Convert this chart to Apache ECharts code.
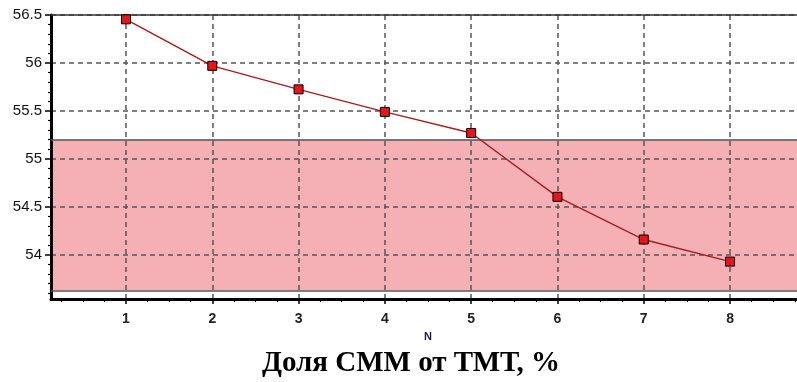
<!DOCTYPE html>
<html>
<head>
<meta charset="utf-8">
<script src="https://cdn.jsdelivr.net/npm/echarts@6/dist/echarts.min.js"></script>
<style>html,body{margin:0;padding:0;background:#fff;}#c{width:797px;height:382px;}</style>
</head>
<body>
<div id="c"></div>
<script>
// Data
const xValues = [1, 2, 3, 4, 5, 6, 7, 8];
const yValues = [56.455, 55.97, 55.725, 55.49, 55.27, 54.605, 54.16, 53.93];
const xTickLabels = [1, 2, 3, 4, 5, 6, 7, 8];
const yTickLabels = [54, 54.5, 55, 55.5, 56, 56.5];
const xMinorTicks = [0.25, 0.5, 0.75, 1.25, 1.5, 1.75, 2.25, 2.5, 2.75, 3.25, 3.5, 3.75, 4.25, 4.5, 4.75, 5.25, 5.5, 5.75, 6.25, 6.5, 6.75, 7.25, 7.5, 7.75, 8.25, 8.5, 8.75];
const yMinorTicks = [53.6, 53.7, 53.8, 53.9, 54.1, 54.2, 54.3, 54.4, 54.6, 54.7, 54.8, 54.9, 55.1, 55.2, 55.3, 55.4, 55.6, 55.7, 55.8, 55.9, 56.1, 56.2, 56.3, 56.4];
const bandRange = [55.2, 53.63];
const xRange = [0.131, 8.776];
const yRange = [53.54, 56.5];
const xName = 'N';
const titleText = 'Доля СММ от ТМТ, %';

const chart = echarts.init(document.getElementById('c'), null, {renderer: 'canvas'});
const dashStyle = {color: '#555', width: 1.5, type: [5, 4]};
const labelFont = {fontFamily: 'Liberation Sans, Arial, sans-serif'};

chart.setOption({
  animation: false,
  backgroundColor: '#fff',
  grid: {left: 51, right: 0, top: 15, bottom: 83, containLabel: false},
  xAxis: [
    {
      type: 'value', min: xRange[0], max: xRange[1], position: 'bottom', z: 3,
      axisLine: {show: true, onZero: false, lineStyle: {color: '#000', width: 3}},
      axisTick: {show: true, customValues: xTickLabels, length: 5, lineStyle: {color: '#000', width: 1.5}},
      axisLabel: {customValues: xTickLabels, margin: 13, fontSize: 14, fontWeight: 'bold', color: '#222', ...labelFont},
      splitLine: {show: true, lineStyle: dashStyle}
    },
    {
      type: 'value', min: xRange[0], max: xRange[1], position: 'bottom', z: 3,
      axisLine: {show: false, onZero: false},
      axisTick: {show: true, customValues: xMinorTicks, length: 3, lineStyle: {color: '#000', width: 1.2}},
      axisLabel: {show: false},
      splitLine: {show: false}
    },
    {
      type: 'value', min: xRange[0], max: xRange[1], position: 'top', z: 3,
      axisLine: {show: true, onZero: false, lineStyle: {color: '#333', width: 1.5}},
      axisTick: {show: false}, axisLabel: {show: false}, splitLine: {show: false}
    }
  ],
  yAxis: [
    {
      type: 'value', min: yRange[0], max: yRange[1], position: 'left', z: 3,
      axisLine: {show: true, onZero: false, lineStyle: {color: '#000', width: 3}},
      axisTick: {show: true, customValues: yTickLabels, length: 6, lineStyle: {color: '#000', width: 1.5}},
      axisLabel: {customValues: yTickLabels, margin: 9, fontSize: 15, color: '#111', ...labelFont,
        formatter: v => String(v)},
      splitLine: {show: true, lineStyle: dashStyle}
    },
    {
      type: 'value', min: yRange[0], max: yRange[1], position: 'left', z: 3,
      axisLine: {show: false, onZero: false},
      axisTick: {show: true, customValues: yMinorTicks, length: 3, lineStyle: {color: '#000', width: 1.2}},
      axisLabel: {show: false},
      splitLine: {show: false}
    }
  ],
  series: [
    {
      type: 'line', xAxisIndex: 0, yAxisIndex: 0, z: 1,
      data: [], silent: true,
      markArea: {
        silent: true,
        itemStyle: {color: '#f4b0b4', borderWidth: 0},
        data: [[{yAxis: bandRange[0]}, {yAxis: bandRange[1]}]]
      },
      markLine: {
        silent: true, symbol: 'none', label: {show: false},
        lineStyle: {color: '#555', width: 1.5, type: 'solid'},
        data: bandRange.map(v => ({yAxis: v}))
      }
    },
    {
      type: 'line', xAxisIndex: 0, yAxisIndex: 0, z: 10,
      data: xValues.map((x, i) => [x, yValues[i]]),
      symbol: 'rect', symbolSize: 9, showSymbol: true,
      lineStyle: {color: '#a81c1c', width: 1.4},
      itemStyle: {color: '#e8141c', borderColor: '#000', borderWidth: 1},
      emphasis: {disabled: true}
    }
  ],
  graphic: [
    {type: 'text', x: 428, y: 337, style: {text: xName, fontSize: 11, fontWeight: 'bold', fill: '#1a1a50',
      fontFamily: 'Liberation Sans, Arial, sans-serif', align: 'center', verticalAlign: 'middle'}},
    {type: 'text', x: 411, y: 364, style: {text: titleText, fontSize: 29, fontWeight: 'bold', fill: '#000',
      fontFamily: 'Liberation Serif, Times New Roman, serif', align: 'center', verticalAlign: 'middle'}}
  ]
});
</script>
</body>
</html>
